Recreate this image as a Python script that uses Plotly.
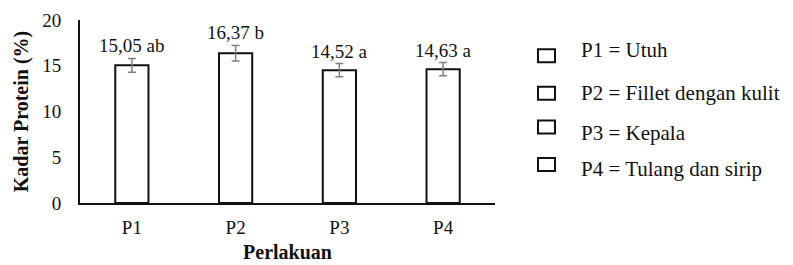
import plotly.graph_objects as go

categories = ["P1", "P2", "P3", "P4"]
values = [15.05, 16.37, 14.52, 14.63]
errors = [0.75, 0.85, 0.72, 0.72]
value_labels = ["15,05 ab", "16,37 b", "14,52 a", "14,63 a"]
legend_names = ["P1 = Utuh", "P2 = Fillet dengan kulit", "P3 = Kepala", "P4 = Tulang dan sirip"]
y_ticks = [0, 5, 10, 15, 20]

FONT = "Liberation Serif"
LEGEND_FONT = "Times New Roman, Liberation Serif, DejaVu Serif, serif"
INK = "#111"

fig = go.Figure()
for i, cat in enumerate(categories):
    fig.add_trace(go.Bar(
        x=[cat], y=[values[i]],
        name=legend_names[i], showlegend=False,
        width=0.32,
        marker=dict(color="white", line=dict(color=INK, width=2)),
        error_y=dict(type="data", array=[errors[i]], color="#808080", thickness=1.5, width=4),
    ))
    fig.add_annotation(x=cat, y=values[i] + errors[i], text=value_labels[i], showarrow=False,
                       yanchor="bottom", yshift=0, font=dict(family=FONT, size=19, color=INK))

# legend drawn as boxes + text in paper coordinates (layout only)
legend_text_rows = [0.835, 0.600, 0.385, 0.185]
legend_box_rows = [0.805, 0.600, 0.415, 0.210]
box_h = 13 / 183
for name, ty, by in zip(legend_names, legend_text_rows, legend_box_rows):
    fig.add_annotation(xref="paper", yref="paper", x=1.203, y=ty, text=name, showarrow=False,
                       xanchor="left", yanchor="middle",
                       font=dict(family=LEGEND_FONT, size=21, color=INK))
    fig.add_shape(type="rect", xref="paper", yref="paper",
                  x0=1.1036, x1=1.1446, y0=by - box_h / 2, y1=by + box_h / 2,
                  line=dict(color=INK, width=2), fillcolor="white")

# page body adds an 8px offset; figure is sized so the plot lands where the reference has it
fig.update_layout(
    width=785, height=257,
    margin=dict(l=72, r=298, t=12, b=62, autoexpand=False),
    paper_bgcolor="white", plot_bgcolor="white",
    barmode="overlay",
    font=dict(family=FONT, size=19, color=INK),
    showlegend=False,
    xaxis=dict(type="category", categoryorder="array", categoryarray=categories,
               range=[-0.5, 3.5], showline=True, linecolor=INK, linewidth=2,
               ticks="", showgrid=False, ticklabelstandoff=6, automargin=False,
               tickfont=dict(family=FONT, size=19, color=INK),
               title=dict(text="<b>Perlakuan</b>", font=dict(family=FONT, size=20, color=INK), standoff=8)),
    yaxis=dict(range=[0, 20], tickvals=y_ticks, showline=True, linecolor=INK, linewidth=2,
               ticks="", showgrid=False, zeroline=False, ticklabelstandoff=13, automargin=False,
               tickfont=dict(family=FONT, size=19, color=INK),
               title=dict(text="<b>Kadar Protein (%)</b>", font=dict(family=FONT, size=20, color=INK), standoff=8)),
)

fig.write_html("out.html")
